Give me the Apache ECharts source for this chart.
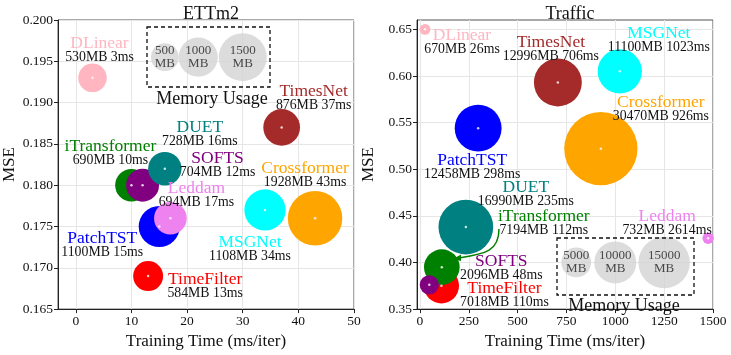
<!DOCTYPE html>
<html>
<head>
<meta charset="utf-8">
<script src="https://cdn.jsdelivr.net/npm/echarts@6/dist/echarts.min.js"></script>
<style>
  html, body { margin: 0; padding: 0; background: #fff; }
  #chart { width: 731px; height: 355px; }
</style>
</head>
<body>
<div id="chart"></div>
<script>
// models, in drawing order (later ones on top)
const MODELS = ['DLinear', 'TimesNet', 'PatchTST', 'Crossformer', 'MSGNet', 'TimeFilter', 'iTransformer', 'SOFTS', 'DUET', 'Leddam']
const COLORS = ['#ffb6c1', '#a52a2a', '#0000ff', '#ffa500', '#00ffff', '#ff0000', '#008000', '#800080', '#008080', '#ee82ee']

// ETTm2
const ETT_TIME = [3, 37, 15, 43, 34, 13, 10, 12, 16, 17]
const ETT_MSE = [0.193, 0.187, 0.175, 0.176, 0.177, 0.169, 0.180, 0.180, 0.182, 0.176]
const ETT_MEM = [530, 876, 1100, 1928, 1108, 584, 690, 704, 728, 694]

// Traffic (Leddam sits at the right edge, its real time is 2614ms)
const TR_TIME = [26, 706, 298, 926, 1023, 110, 112, 48, 235, 2614]
const TR_X = [26, 706, 298, 926, 1023, 110, 112, 48, 235, 1475]
const TR_MSE = [0.650, 0.593, 0.544, 0.522, 0.605, 0.375, 0.395, 0.376, 0.438, 0.426]
const TR_MEM = [670, 12996, 12458, 30470, 11100, 7018, 7194, 2096, 16990, 732]

// memory usage legends
const ETT_LEG_MEM = [500, 1000, 1500]
const ETT_LEG_X = [16, 22, 30]
const ETT_LEG_Y = 0.1955
const TR_LEG_MEM = [5000, 10000, 15000]
const TR_LEG_X = [800, 1000, 1250]
const TR_LEG_Y = 0.40

// ticks
const ETT_XTICKS = [0, 10, 20, 30, 40, 50]
const ETT_YTICKS = [0.165, 0.170, 0.175, 0.180, 0.185, 0.190, 0.195, 0.200]
const TR_XTICKS = [0, 250, 500, 750, 1000, 1250, 1500]
const TR_YTICKS = [0.35, 0.40, 0.45, 0.50, 0.55, 0.60, 0.65]

// label offsets (px) for the two-line labels
const ETT_OFF = [[7, -27], [32, -29], [-57, 19], [-10, -43], [-15, 39], [57, 10], [-21, -32], [75, -20], [35, -34], [26, -23]]
const TR_OFF = [[37, 13], [-7, -33], [-6, 39], [60, -39], [39, -31], [63, 10], [102, -44], [72, -16], [60, -33], [-41, -15]]

const FONT = '"Liberation Serif", "DejaVu Serif", serif'
const ETT_K = 1.24
const TR_K = 0.42

const chart = echarts.init(document.getElementById('chart'))

function bubbles(xs, ys, mem, times, offs, k, idx) {
  return {
    type: 'scatter',
    xAxisIndex: idx,
    yAxisIndex: idx,
    symbolSize: v => k * Math.sqrt(v[2]),
    data: MODELS.map((m, i) => ({
      value: [xs[i], ys[i], mem[i]],
      itemStyle: { color: COLORS[i], opacity: 1 },
      label: {
        show: true,
        position: 'inside',
        offset: offs[i],
        formatter: `{n|${m}}\n{m|${mem[i]}MB ${times[i]}ms}`,
        rich: {
          n: { fontFamily: FONT, fontSize: 17.5, color: COLORS[i], lineHeight: 14, align: 'center' },
          m: { fontFamily: FONT, fontSize: 13.8, color: '#111', lineHeight: 14, align: 'center' }
        }
      }
    })),
    emphasis: { disabled: true },
    z: 3
  }
}

function dots(xs, ys, idx) {
  return {
    type: 'scatter',
    xAxisIndex: idx,
    yAxisIndex: idx,
    symbolSize: 2.5,
    itemStyle: { color: '#fff' },
    data: xs.map((x, i) => [x, ys[i]]),
    silent: true,
    z: 4
  }
}

function legendBubbles(xs, y, mem, k, idx) {
  return {
    type: 'scatter',
    xAxisIndex: idx,
    yAxisIndex: idx,
    symbolSize: v => k * Math.sqrt(v[2]),
    itemStyle: { color: '#d3d3d3' },
    data: xs.map((x, i) => [x, y, mem[i]]),
    label: {
      show: true,
      position: 'inside',
      formatter: p => p.value[2] + '\nMB',
      fontFamily: FONT,
      fontSize: 13,
      lineHeight: 13,
      color: '#222'
    },
    silent: true,
    z: 2
  }
}

function xAxis(idx, min, max, ticks) {
  return {
    type: 'value',
    gridIndex: idx,
    min: min,
    max: max,
    name: 'Training Time (ms/iter)',
    nameLocation: 'middle',
    nameGap: 19,
    nameTextStyle: { fontFamily: FONT, fontSize: 17, color: '#111' },
    axisLine: { onZero: false, lineStyle: { color: '#222' } },
    axisTick: { show: true, length: 4, customValues: ticks, lineStyle: { color: '#222' } },
    axisLabel: { customValues: ticks, formatter: v => String(v), fontFamily: FONT, fontSize: 13.5, color: '#111', margin: 5 },
    splitLine: { show: true, lineStyle: { color: '#e6e6e6' } }
  }
}

function yAxis(idx, min, max, ticks, dec) {
  return {
    type: 'value',
    gridIndex: idx,
    min: min,
    max: max,
    name: 'MSE',
    nameLocation: 'middle',
    nameGap: 40,
    nameTextStyle: { fontFamily: FONT, fontSize: 17, color: '#111' },
    axisLine: { show: true, onZero: false, lineStyle: { color: '#222' } },
    axisTick: { show: true, length: 4, customValues: ticks, lineStyle: { color: '#222' } },
    axisLabel: { customValues: ticks, formatter: v => v.toFixed(dec), fontFamily: FONT, fontSize: 13.5, color: '#111', margin: 5 },
    splitLine: { show: true, lineStyle: { color: '#e6e6e6' } }
  }
}

function memText(x, y) {
  return {
    type: 'text',
    x: x, y: y,
    style: { text: 'Memory Usage', font: '18px "Liberation Serif", serif', fill: '#111', align: 'center', verticalAlign: 'middle' },
    z: 10
  }
}

function dashBox(x, y, w, h) {
  return {
    type: 'rect',
    shape: { x: x, y: y, width: w, height: h },
    style: { fill: null, stroke: '#111', lineWidth: 1.3, lineDash: [4, 3] },
    z: 10
  }
}

const titleStyle = { fontFamily: FONT, fontSize: 18, fontWeight: 'normal', color: '#111' }

const option = {
  animation: false,
  title: [
    { text: 'ETTm2', left: 206, top: 0, textAlign: 'center', textStyle: titleStyle },
    { text: 'Traffic', left: 565, top: 0, textAlign: 'center', textStyle: titleStyle }
  ],
  grid: [
    { left: 58, right: 377, top: 20, bottom: 41, show: true, borderColor: '#555', borderWidth: 1 },
    { left: 417, right: 18, top: 20, bottom: 41, show: true, borderColor: '#555', borderWidth: 1 }
  ],
  xAxis: [
    xAxis(0, -3.2, 50, ETT_XTICKS),
    xAxis(1, -15, 1500, TR_XTICKS)
  ],
  yAxis: [
    yAxis(0, 0.165, 0.200, ETT_YTICKS, 3),
    yAxis(1, 0.35, 0.66, TR_YTICKS, 2)
  ],
  series: [
    legendBubbles(ETT_LEG_X, ETT_LEG_Y, ETT_LEG_MEM, ETT_K, 0),
    bubbles(ETT_TIME, ETT_MSE, ETT_MEM, ETT_TIME, ETT_OFF, ETT_K, 0),
    dots(ETT_TIME, ETT_MSE, 0),
    legendBubbles(TR_LEG_X, TR_LEG_Y, TR_LEG_MEM, TR_K, 1),
    bubbles(TR_X, TR_MSE, TR_MEM, TR_TIME, TR_OFF, TR_K, 1),
    dots(TR_X, TR_MSE, 1)
  ],
  graphic: [
    dashBox(147, 27, 123, 60),
    memText(212, 99),
    dashBox(557, 238, 137, 57),
    memText(624, 306),
    // arrow from iTransformer label to its bubble
    {
      type: 'bezierCurve',
      shape: { x1: 499, y1: 229, cpx1: 499, cpy1: 252, cpx2: 484, cpy2: 254, x2: 459, y2: 258 },
      style: { stroke: '#008000', lineWidth: 1.5, fill: null },
      z: 10
    },
    {
      type: 'polygon',
      shape: { points: [[453, 259], [461, 254.5], [461, 261]] },
      style: { fill: '#008000' },
      z: 10
    }
  ]
}

chart.setOption(option)
</script>
</body>
</html>
